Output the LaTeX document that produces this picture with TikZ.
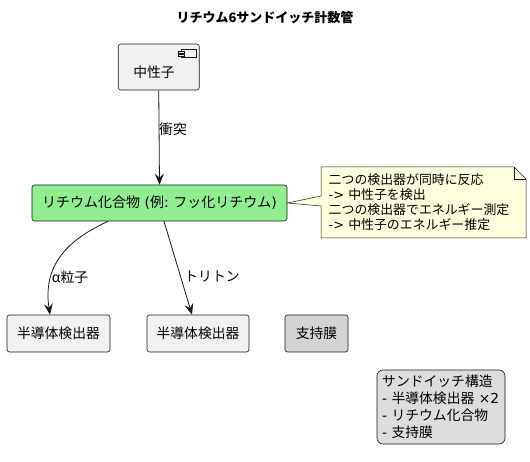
\documentclass[tikz,border=0pt]{standalone}
\usepackage{fontspec}
\setmainfont{Noto Sans CJK JP}
\newfontfamily\dejavu{DejaVu Sans}
\usetikzlibrary{arrows.meta}
\definecolor{bordercol}{HTML}{181818}
\definecolor{boxfill}{HTML}{F1F1F1}
\definecolor{greenfill}{HTML}{90EE90}
\definecolor{grayfill}{HTML}{D3D3D3}
\definecolor{notefill}{HTML}{FEFFDD}
\definecolor{legendfill}{HTML}{DDDDDD}
\tikzset{
  ent/.style={draw=bordercol, line width=0.6pt, fill=boxfill, rounded corners=2.5pt,
    minimum height=37pt, inner sep=0pt, font=\fontsize{13.8}{16}\selectfont},
  lbl/.style={font=\fontsize{13.8}{16}\selectfont, inner sep=0pt},
  edge/.style={draw=bordercol, line width=0.8pt, -{Stealth[length=11pt,width=9pt,inset=4pt]}},
}
\begin{document}
\begin{tikzpicture}[x=1pt,y=-1pt]
\useasboundingbox (0,0) rectangle (530,462);
% title
\node[font=\fontsize{13}{15}\selectfont\bfseries, inner sep=0pt] (title) at (265,18) {リチウム6サンドイッチ計数管};
% neutron component
\node[ent, minimum width=81pt, minimum height=46pt] (neutron) at (158.75,67) {};
\node[lbl] (neutrontxt) at (154,72) {中性子};
\draw[draw=bordercol, line width=0.5pt, fill=boxfill] (181,49) rectangle (196,57);
\draw[draw=bordercol, line width=0.5pt, fill=boxfill] (178,50.8) rectangle (184,53);
\draw[draw=bordercol, line width=0.5pt, fill=boxfill] (178,54) rectangle (184,56.2);
% lithium compound
\node[ent, fill=greenfill, minimum width=255pt, minimum height=36pt, font=\fontsize{14}{16}\selectfont] (green) at (159.5,203)
  {リチウム化合物{\dejavu\ (}例{\dejavu:\ }フッ化リチウム{\dejavu)}};
% detectors
\node[ent, minimum width=103pt] (det1) at (58.5,333.5) {半導体検出器};
\node[ent, minimum width=102pt] (det2) at (198,333.5) {半導体検出器};
\node[ent, fill=grayfill, minimum width=63pt] (support) at (316.5,333.5) {支持膜};
% edges
\draw[edge] (neutron.south) -- (green.north);
\node[lbl] (l1) at (173,129) {衝突};
\coordinate (gs1) at ([xshift=-51.5pt]green.south);
\coordinate (gs2) at ([xshift=4.5pt]green.south);
\coordinate (d1t) at ([xshift=-8.5pt]det1.north);
\coordinate (d2t) at ([xshift=-6pt]det2.north);
\draw[edge] (gs1) .. controls (72,238) and (42,262) .. (d1t);
\node[lbl] (l2) at (70,277) {α粒子};
\draw[edge] (gs2) -- (d2t);
\node[lbl] (l3) at (212,276) {トリトン};
% note
\coordinate (ge) at (green.east);
\filldraw[draw=bordercol, line width=0.5pt, fill=notefill]
  (321,167) -- (514,167) -- (526,179) -- (526,238) -- (321,238) -- (321,206) -- (ge) -- (321,196) -- cycle;
\draw[draw=bordercol, line width=0.5pt] (514,167) -- (514,179) -- (526,179);
\node[lbl, anchor=west, align=left, font=\fontsize{12.9}{15}\selectfont] (note) at (328.5,202.5)
  {二つの検出器が同時に反応\\{\dejavu->\ }中性子を検出\\二つの検出器でエネルギー測定\\{\dejavu->\ }中性子のエネルギー推定};
% legend
\node[draw=bordercol, line width=0.6pt, fill=legendfill, rounded corners=6pt,
  minimum width=128pt, minimum height=74pt, inner sep=0pt] (legendbox) at (441,407) {};
\node[lbl, anchor=west, align=left, font=\fontsize{13.8}{17}\selectfont] (legend) at (382,406.5)
  {サンドイッチ構造\\{\dejavu-\ }半導体検出器{\dejavu\ ×2}\\{\dejavu-\ }リチウム化合物\\{\dejavu-\ }支持膜};
\end{tikzpicture}
\end{document}
